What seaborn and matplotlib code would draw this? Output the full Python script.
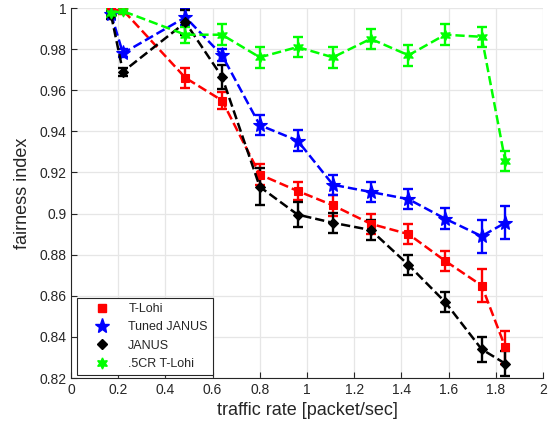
import numpy as np
import matplotlib
matplotlib.use("Agg")
import matplotlib.pyplot as plt
from matplotlib.lines import Line2D
from matplotlib.ticker import FuncFormatter
import seaborn as sns

# ---- data ----
traffic_rate = [0.17, 0.22, 0.485, 0.64, 0.80, 0.96, 1.11, 1.27, 1.43, 1.585, 1.74, 1.84]

tlohi = [0.999, 0.999, 0.966, 0.955, 0.919, 0.911, 0.904, 0.895, 0.890, 0.877, 0.865, 0.835]
tlohi_err = [0.002, 0.002, 0.005, 0.004, 0.005, 0.0045, 0.005, 0.005, 0.005, 0.005, 0.008, 0.008]

tuned_janus = [0.997, 0.978, 0.9955, 0.977, 0.943, 0.9355, 0.914, 0.9105, 0.907, 0.8975, 0.889, 0.8955]
tuned_janus_err = [0.002, 0.002, 0.004, 0.003, 0.005, 0.005, 0.005, 0.005, 0.005, 0.005, 0.008, 0.008]

janus = [0.9965, 0.969, 0.993, 0.9665, 0.913, 0.8995, 0.8955, 0.892, 0.875, 0.857, 0.834, 0.827]
janus_err = [0.002, 0.002, 0.006, 0.006, 0.009, 0.006, 0.005, 0.005, 0.005, 0.005, 0.006, 0.006]

cr_tlohi = [0.9975, 0.9985, 0.987, 0.987, 0.976, 0.981, 0.976, 0.985, 0.977, 0.987, 0.986, 0.9255]
cr_tlohi_err = [0.002, 0.001, 0.004, 0.005, 0.005, 0.005, 0.005, 0.005, 0.005, 0.005, 0.005, 0.005]

series_names = ["T-Lohi", "Tuned JANUS", "JANUS", ".5CR T-Lohi"]
x_ticks = [0, 0.2, 0.4, 0.6, 0.8, 1, 1.2, 1.4, 1.6, 1.8, 2]
y_ticks = [0.82, 0.84, 0.86, 0.88, 0.9, 0.92, 0.94, 0.96, 0.98, 1]

# ---- style ----
sns.set_theme(style="whitegrid")
plt.rcParams["font.family"] = ["Liberation Sans", "DejaVu Sans"]

fig = plt.figure(figsize=(5.49, 4.32), dpi=100)
ax = fig.add_axes([71 / 549, 1 - 378 / 432, 472 / 549, 370 / 432])

styles = [
    dict(color=(1, 0, 0), marker="s", ms=6),
    dict(color=(0, 0, 1), marker="*", ms=11),
    dict(color=(0, 0, 0), marker="D", ms=5.5),
    dict(color=(0, 1, 0), marker=(6, 1, 0), ms=8),
]
data = [(tlohi, tlohi_err), (tuned_janus, tuned_janus_err),
        (janus, janus_err), (cr_tlohi, cr_tlohi_err)]

for (vals, err), st, name in zip(data, styles, series_names):
    ax.errorbar(traffic_rate, vals, yerr=err, fmt="none", ecolor=st["color"],
                elinewidth=1.7, capsize=3.8, capthick=1.7, zorder=3)
    sns.lineplot(x=traffic_rate, y=vals, ax=ax, color=st["color"],
                 linestyle="--", dashes=(3.6, 2.4), linewidth=1.8,
                 marker=st["marker"], markersize=st["ms"],
                 markeredgecolor=st["color"], markerfacecolor=st["color"],
                 markeredgewidth=0.8, zorder=4, legend=False)

ax.set_xlim(0, 2)
ax.set_ylim(0.82, 1)
ax.set_xticks(x_ticks)
ax.set_yticks(y_ticks)
fmt = FuncFormatter(lambda v, p: "%g" % round(v, 4))
ax.xaxis.set_major_formatter(fmt)
ax.yaxis.set_major_formatter(fmt)

ax.grid(True, color=(0.9, 0.9, 0.9), linewidth=0.9)
ax.set_axisbelow(True)
for s in ["top", "right"]:
    ax.spines[s].set_visible(False)
for s in ["left", "bottom"]:
    ax.spines[s].set_visible(True)
    ax.spines[s].set_color((0.15, 0.15, 0.15))
    ax.spines[s].set_linewidth(0.8)
ax.set_facecolor("white")
ax.tick_params(axis="both", direction="in", length=4, width=0.8,
               colors=(0.15, 0.15, 0.15), labelsize=10, pad=3.5,
               bottom=True, left=True)

ax.set_xlabel("traffic rate [packet/sec]", fontsize=13, color=(0.15, 0.15, 0.15), labelpad=4)
ax.set_ylabel("fairness index", fontsize=13, color=(0.15, 0.15, 0.15), labelpad=6)

handles = [Line2D([], [], linestyle="none", marker=st["marker"], markersize=st["ms"],
                  color=st["color"], markeredgecolor=st["color"])
           for st in styles]
leg = ax.legend(handles, series_names, loc="lower left",
                bbox_to_anchor=(6 / 472, 3 / 370), borderaxespad=0,
                fontsize=9, frameon=True, fancybox=False, framealpha=1,
                edgecolor=(0.15, 0.15, 0.15), handlelength=3.2,
                handletextpad=0.5, borderpad=0.4, labelspacing=0.5)
leg.get_frame().set_linewidth(0.8)
for t in leg.get_texts():
    t.set_color((0.15, 0.15, 0.15))

fig.savefig("out.png", dpi=100, facecolor="white")
